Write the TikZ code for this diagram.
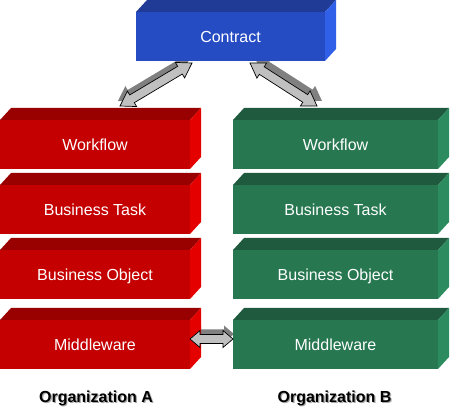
\documentclass[tikz,border=0pt]{standalone}
\usepackage{fontspec}
\setmainfont{Liberation Sans}
\usetikzlibrary{calc}
\definecolor{rF}{HTML}{C40000}
\definecolor{rT}{HTML}{990000}
\definecolor{rS}{HTML}{E50000}
\definecolor{gF}{HTML}{277750}
\definecolor{gT}{HTML}{1F5A3E}
\definecolor{gS}{HTML}{2D8C5F}
\definecolor{bF}{HTML}{264CC4}
\definecolor{bT}{HTML}{1F3B96}
\definecolor{bS}{HTML}{3060E8}
\definecolor{arrowgray}{HTML}{C0C0C0}
\definecolor{shadowgray}{HTML}{808080}
\definecolor{labelshadow}{HTML}{A8A8A8}
\tikzset{
  slabfront/.style={rectangle, inner sep=0pt, outer sep=0pt, minimum height=49pt,
    text=white, text height=11.5pt, text depth=0pt, font=\fontsize{16}{19}\selectfont},
  arrowbody/.style={fill=arrowgray, draw=black, line width=0.7pt, line join=miter},
  arrowshadow/.style={fill=shadowgray},
  orglabel/.style={inner sep=0pt, font=\fontsize{16}{19}\selectfont\bfseries}
}
% #1 name, #2 colour prefix, #3 left x, #4 top y, #5 width, #6 text
\newcommand\slab[6]{%
  \node[slabfront, fill=#2F, minimum width=#5pt, anchor=north west] (#1) at (#3,#4) {#6};
  \fill[#2T] (#1.north west) -- ++(11,-12) -- ([shift={(11,-12)}]#1.north east) -- (#1.north east) -- cycle;
  \fill[#2S] (#1.north east) -- ++(11,-12) -- ([shift={(11,-12)}]#1.south east) -- (#1.south east) -- cycle;
}
% #1 style, #2 start, #3 end, #4 head length, #5 head half width, #6 shaft half width
\newcommand\blockarrow[6]{%
  \path[#1] (#2)
    -- ($(#2)!#4!(#3)!#5!90:(#3)$)
    -- ($(#2)!#4!(#3)!#6!90:(#3)$)
    -- ($(#3)!#4!(#2)!#6!-90:(#2)$)
    -- ($(#3)!#4!(#2)!#5!-90:(#2)$)
    -- (#3)
    -- ($(#3)!#4!(#2)!#5!90:(#2)$)
    -- ($(#3)!#4!(#2)!#6!90:(#2)$)
    -- ($(#2)!#4!(#3)!#6!-90:(#3)$)
    -- ($(#2)!#4!(#3)!#5!-90:(#3)$)
    -- cycle;
}
\begin{document}
\begin{tikzpicture}[x=1pt, y=-1pt]
\useasboundingbox (0,0) rectangle (450,411);
% anchor points (pixel layout)
\coordinate (cSW) at (136,61);
\coordinate (rwNW) at (0,120);
\coordinate (gwNW) at (233,120);
\coordinate (la) at ($(rwNW)+(120,-14)$);
\coordinate (lb) at ($(cSW)+(56,2)$);
\coordinate (ra) at ($(cSW)+(114,2)$);
\coordinate (rb) at ($(gwNW)+(84,-14)$);
\coordinate (ma) at (190,339);
\coordinate (mb) at (233,339);
\coordinate (las) at ($(la)+(-2,-5)$);
\coordinate (lbs) at ($(lb)+(-2,-5)$);
\coordinate (ras) at ($(ra)+(5,-5)$);
\coordinate (rbs) at ($(rb)+(5,-5)$);
\coordinate (mas) at ($(ma)+(1,-5)$);
\coordinate (mbs) at ($(mb)+(1,-5)$);
% shadows of arrows
\blockarrow{arrowshadow}{las}{lbs}{14pt}{9pt}{4.5pt}
\blockarrow{arrowshadow}{ras}{rbs}{14pt}{9pt}{4.5pt}
\blockarrow{arrowshadow}{mas}{mbs}{10pt}{8.5pt}{4.5pt}
% slabs
\slab{contract}{b}{136}{12}{189}{Contract}
\slab{rw}{r}{0}{120}{190}{Workflow}
\slab{rt}{r}{0}{185}{190}{Business Task}
\slab{ro}{r}{0}{250}{190}{Business Object}
\slab{rm}{r}{0}{320}{190}{Middleware}
\slab{gw}{g}{233}{120}{205}{Workflow}
\slab{gt}{g}{233}{185}{205}{Business Task}
\slab{go}{g}{233}{250}{205}{Business Object}
\slab{gm}{g}{233}{320}{205}{Middleware}
% arrows
\blockarrow{arrowbody}{la}{lb}{14pt}{9pt}{4.5pt}
\blockarrow{arrowbody}{ra}{rb}{14pt}{9pt}{4.5pt}
\blockarrow{arrowbody}{ma}{mb}{10pt}{8.5pt}{4.5pt}
% labels
\node[orglabel, text=labelshadow] (orgAs) at (97.2,399.2) {Organization A};
\node[orglabel] (orgA) at (96,398) {Organization A};
\node[orglabel, text=labelshadow] (orgBs) at (335.7,399.2) {Organization B};
\node[orglabel] (orgB) at (334.5,398) {Organization B};
\end{tikzpicture}
\end{document}
